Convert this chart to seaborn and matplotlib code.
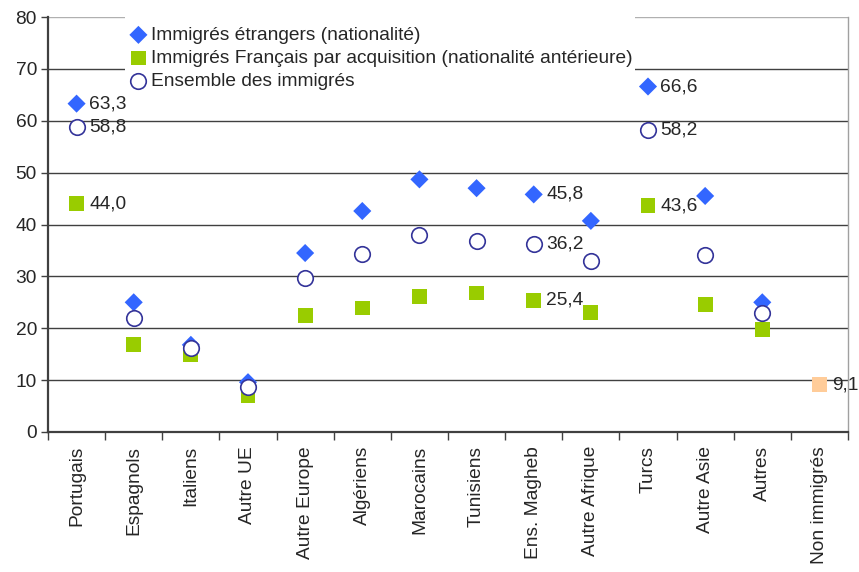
import numpy as np
import pandas as pd
import matplotlib
matplotlib.use("Agg")
import matplotlib.pyplot as plt
import seaborn as sns

# Données
categories = ["Portugais", "Espagnols", "Italiens", "Autre UE", "Autre Europe",
              "Algériens", "Marocains", "Tunisiens", "Ens. Magheb", "Autre Afrique",
              "Turcs", "Autre Asie", "Autres", "Non immigrés"]
etrangers = [63.3, 25.0, 16.8, 9.6, 34.5, 42.6, 48.7, 47.0, 45.8, 40.7, 66.6, 45.5, 25.0, np.nan]
francais_acq = [44.0, 16.8, 15.0, 7.1, 22.5, 23.9, 26.2, 26.8, 25.4, 23.1, 43.6, 24.5, 19.8, np.nan]
ensemble = [58.8, 22.0, 16.2, 8.7, 29.7, 34.3, 38.0, 36.8, 36.2, 33.0, 58.2, 34.1, 22.9, np.nan]
non_immigres = [np.nan] * 13 + [9.1]

labelled = ["Portugais", "Ens. Magheb", "Turcs"]

lab_etr = "Immigrés étrangers (nationalité)"
lab_fr = "Immigrés Français par acquisition (nationalité antérieure)"
lab_ens = "Ensemble des immigrés"

df = pd.DataFrame({"cat": categories, "pos": np.arange(len(categories)),
                   lab_etr: etrangers, lab_fr: francais_acq, lab_ens: ensemble,
                   "non": non_immigres})

FS = 13.8

sns.set_theme(style="white")
plt.rcParams["font.family"] = ["Liberation Sans", "DejaVu Sans"]
plt.rcParams["font.size"] = FS

fig = plt.figure(figsize=(8.59, 5.72), dpi=100)
ax = fig.add_axes([48 / 859, 1 - 432 / 572, 800 / 859, 415 / 572])

# grille
for yv in range(10, 90, 10):
    col = "#b0b0b0" if yv == 80 else "#404040"
    ax.axhline(yv, color=col, lw=1.0, zorder=0)

sns.scatterplot(data=df, x="pos", y=lab_etr, marker="D", s=85, color="#3366ff",
                edgecolor="none", ax=ax, label=lab_etr, zorder=3)
sns.scatterplot(data=df, x="pos", y=lab_fr, marker="s", s=115, color="#99cc00",
                edgecolor="none", ax=ax, label=lab_fr, zorder=2)
sns.scatterplot(data=df, x="pos", y=lab_ens, marker="o", s=125, facecolor="white",
                edgecolor="#333399", linewidth=1.2, ax=ax, label=lab_ens, zorder=4)
sns.scatterplot(data=df, x="pos", y="non", marker="s", s=115, color="#ffcc99",
                edgecolor="none", ax=ax, legend=False, zorder=2)

# étiquettes de valeurs
def fmt(v):
    return f"{v:.1f}".replace(".", ",")

for _, row in df.iterrows():
    if row["cat"] in labelled:
        for col in (lab_etr, lab_fr, lab_ens):
            ax.annotate(fmt(row[col]), (row["pos"], row[col]), xytext=(9, 0),
                        textcoords="offset points", va="center", ha="left",
                        fontsize=FS, zorder=5)
    if not np.isnan(row["non"]):
        ax.annotate(fmt(row["non"]), (row["pos"], row["non"]), xytext=(9, 0),
                    textcoords="offset points", va="center", ha="left",
                    fontsize=FS, zorder=5, annotation_clip=False)

ax.set_xlim(-0.5, len(categories) - 0.5)
ax.set_ylim(0, 80)
ax.set_yticks(range(0, 90, 10))
ax.set_xticks(np.arange(-0.5, len(categories), 1.0))
ax.set_xticklabels([])
ax.set_xticks(np.arange(len(categories)), minor=True)
ax.set_xticklabels(categories, minor=True, rotation=90)
ax.tick_params(axis="x", which="major", direction="out", length=6, width=1.0,
               color="#404040", bottom=True)
ax.tick_params(axis="x", which="minor", length=0, pad=10, labelsize=FS)
ax.tick_params(axis="y", direction="out", length=5, width=1.0, color="#404040",
               left=True, labelsize=FS, pad=3)
ax.set_xlabel("")
ax.set_ylabel("")

for side in ("left", "bottom"):
    ax.spines[side].set_color("#404040")
    ax.spines[side].set_linewidth(1.6)
ax.spines["top"].set_visible(False)
ax.spines["right"].set_color("#a0a0a0")
ax.spines["right"].set_linewidth(1.0)

# titre vide pour décaler les entrées vers le bas
leg = ax.legend(loc="upper left", bbox_to_anchor=(77 / 800, 1.01), frameon=True,
                fancybox=False, facecolor="white", edgecolor="none", framealpha=1,
                borderpad=0.15, borderaxespad=0, handletextpad=0.1,
                labelspacing=0.3, fontsize=FS, handlelength=1.1,
                title=" ", title_fontsize=4)
leg.set_zorder(10)

plt.savefig("out.png", dpi=100)
